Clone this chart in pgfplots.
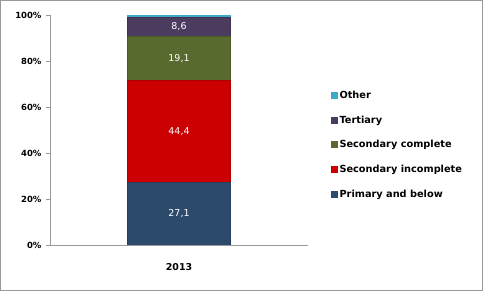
\documentclass[border=0pt]{standalone}
\usepackage{pgfplots}
\pgfplotsset{compat=1.18}
\usepackage{fontspec}
\setmainfont{DejaVu Sans}
\definecolor{cPrim}{HTML}{2C4A6B}
\definecolor{cSecI}{HTML}{CC0000}
\definecolor{cSecC}{HTML}{586A2E}
\definecolor{cTert}{HTML}{4B3B5E}
\definecolor{cOther}{HTML}{3AACC8}
\begin{document}
\begin{tikzpicture}
\useasboundingbox (-50bp,-46bp) rectangle (433bp,245bp);
\draw[gray!80, line width=0.8bp] (-49.5bp,-45.5bp) rectangle (432.5bp,244.5bp);
\begin{axis}[
  scale only axis, width=258bp, height=230bp,
  ybar stacked, bar width=103bp,
  xmin=-1, xmax=1, ymin=0, ymax=100,
  axis x line*=bottom, axis y line*=left,
  axis line style={gray!80, line width=0.8bp},
  xtick={0}, xticklabels={2013},
  major x tick style={draw=none},
  extra x ticks={-1,1}, extra x tick labels={},
  extra x tick style={major tick length=4bp, tick align=outside, tick style={gray!80, line width=0.8bp}},
  xticklabel style={font=\fontsize{9.5}{11}\selectfont\bfseries, yshift=-11bp},
  ytick={0,20,40,60,80,100},
  yticklabel={\pgfmathprintnumber{\tick}\%},
  yticklabel style={font=\fontsize{8.5}{10}\selectfont\bfseries, xshift=-1bp},
  /pgf/number format/assume math mode=true,
  y tick style={gray!80, line width=0.8bp},
  tick align=outside, major tick length=4bp,
  point meta=explicit symbolic,
  nodes near coords,
  every node near coord/.append style={anchor=center, text=white, font=\fontsize{9.5}{11}\selectfont},
  legend style={at={(1.075,0.435)}, anchor=west, draw=none, fill=none,
    font=\fontsize{9.8}{11}\selectfont\bfseries, row sep=11.8bp},
  legend cell align=left,
  reverse legend,
  legend image code/.code={\draw[#1, draw=none] (0bp,-3.5bp) rectangle (7bp,3.5bp);},
]
\addplot[fill=cPrim, draw=cPrim!85!black] table[x=x, y=y, meta=lab] {
x y lab
0 27.1 27,1
};
\addlegendentry{Primary and below}
\addplot[fill=cSecI, draw=cSecI!85!black] table[x=x, y=y, meta=lab] {
x y lab
0 44.4 44,4
};
\addlegendentry{Secondary incomplete}
\addplot[fill=cSecC, draw=cSecC!85!black] table[x=x, y=y, meta=lab] {
x y lab
0 19.1 19,1
};
\addlegendentry{Secondary complete}
\addplot[fill=cTert, draw=cTert!85!black] table[x=x, y=y, meta=lab] {
x y lab
0 8.6 8,6
};
\addlegendentry{Tertiary}
\addplot[fill=cOther, draw=cOther, nodes near coords={}] table[x=x, y=y, meta=lab] {
x y lab
0 0.8 {}
};
\addlegendentry{Other}
\end{axis}
\end{tikzpicture}
\end{document}
